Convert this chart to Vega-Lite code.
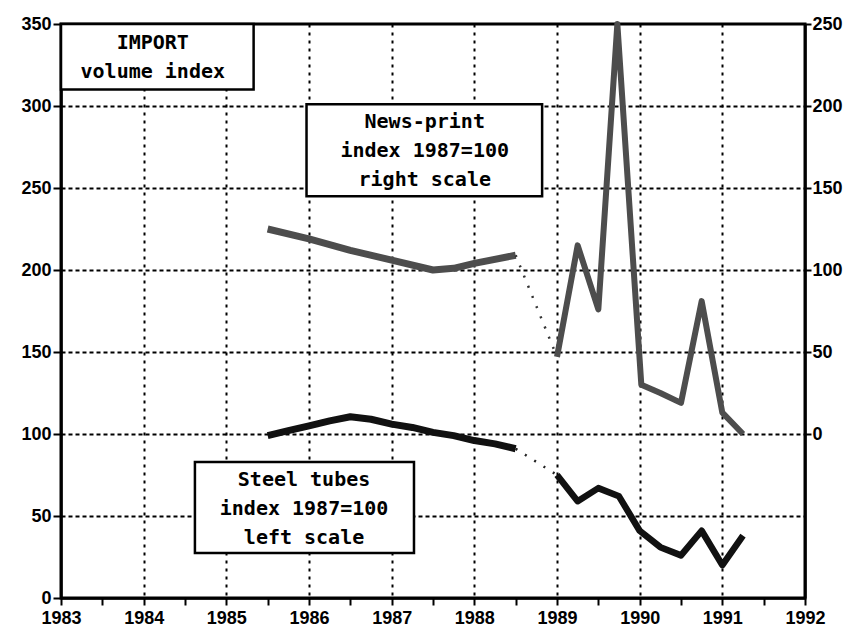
{
  "$schema": "https://vega.github.io/schema/vega-lite/v6.json",
  "width": 744,
  "height": 574,
  "autosize": {"type": "none"},
  "padding": {"left": 61, "top": 24, "right": 47, "bottom": 39},
  "background": "white",
  "config": {
    "view": {"stroke": "black", "strokeWidth": 3},
    "axis": {
      "domainColor": "black",
      "domainWidth": 2.5,
      "tickColor": "black",
      "tickWidth": 2,
      "labelColor": "black",
      "labelFont": "Liberation Sans",
      "labelFontWeight": "bold",
      "labelFontSize": 18,
      "labelOverlap": false,
      "title": null
    }
  },
  "datasets": {
    "steel": [
      {"year": 1985.5, "value": 99, "part": "a"},
      {"year": 1985.75, "value": 102, "part": "a"},
      {"year": 1986, "value": 105, "part": "a"},
      {"year": 1986.25, "value": 108, "part": "a"},
      {"year": 1986.5, "value": 110.5, "part": "a"},
      {"year": 1986.75, "value": 109, "part": "a"},
      {"year": 1987, "value": 106, "part": "a"},
      {"year": 1987.25, "value": 104, "part": "a"},
      {"year": 1987.5, "value": 101, "part": "a"},
      {"year": 1987.75, "value": 99, "part": "a"},
      {"year": 1988, "value": 96, "part": "a"},
      {"year": 1988.25, "value": 94, "part": "a"},
      {"year": 1988.5, "value": 91, "part": "a"},
      {"year": 1988.5, "value": 91, "part": "c"},
      {"year": 1989, "value": 75, "part": "c"},
      {"year": 1989, "value": 75, "part": "b"},
      {"year": 1989.25, "value": 59, "part": "b"},
      {"year": 1989.5, "value": 67, "part": "b"},
      {"year": 1989.75, "value": 62, "part": "b"},
      {"year": 1990, "value": 41, "part": "b"},
      {"year": 1990.25, "value": 31, "part": "b"},
      {"year": 1990.5, "value": 26, "part": "b"},
      {"year": 1990.75, "value": 41, "part": "b"},
      {"year": 1991, "value": 20, "part": "b"},
      {"year": 1991.25, "value": 38, "part": "b"}
    ],
    "news": [
      {"year": 1985.5, "value": 125, "part": "a"},
      {"year": 1986, "value": 119, "part": "a"},
      {"year": 1986.5, "value": 112, "part": "a"},
      {"year": 1987, "value": 106, "part": "a"},
      {"year": 1987.5, "value": 100, "part": "a"},
      {"year": 1987.75, "value": 101, "part": "a"},
      {"year": 1988, "value": 104, "part": "a"},
      {"year": 1988.5, "value": 109, "part": "a"},
      {"year": 1988.5, "value": 109, "part": "c"},
      {"year": 1989, "value": 47, "part": "c"},
      {"year": 1989, "value": 47, "part": "b"},
      {"year": 1989.25, "value": 115, "part": "b"},
      {"year": 1989.5, "value": 76, "part": "b"},
      {"year": 1989.73, "value": 250, "part": "b"},
      {"year": 1990.02, "value": 30, "part": "b"},
      {"year": 1990.25, "value": 25, "part": "b"},
      {"year": 1990.5, "value": 19, "part": "b"},
      {"year": 1990.75, "value": 81, "part": "b"},
      {"year": 1991, "value": 13, "part": "b"},
      {"year": 1991.25, "value": 0, "part": "b"}
    ],
    "boxes": [
      {"x0": 1983, "x1": 1985.33, "y0": 350, "y1": 310, "tx": 1984.11, "ty": 338.5, "lines": ["IMPORT", "volume index"]},
      {"x0": 1985.97, "x1": 1988.82, "y0": 301, "y1": 245, "tx": 1987.4, "ty": 290, "lines": ["News-print", "index 1987=100", "right scale"]},
      {"x0": 1984.62, "x1": 1987.27, "y0": 83, "y1": 27.5, "tx": 1985.94, "ty": 72, "lines": ["Steel tubes", "index 1987=100", "left scale"]}
    ]
  },
  "layer": [
    {
      "layer": [
        {
          "data": {"name": "boxes"},
          "mark": {"type": "rect", "fill": "white", "stroke": "black", "strokeWidth": 2.5},
          "encoding": {
            "x": {
              "field": "x0", "type": "quantitative",
              "scale": {"domain": [1983, 1992], "nice": false, "zero": false},
              "axis": {
                "orient": "bottom",
                "values": [1983, 1983.25, 1983.5, 1983.75, 1984, 1984.25, 1984.5, 1984.75, 1985, 1985.25, 1985.5, 1985.75, 1986, 1986.25, 1986.5, 1986.75, 1987, 1987.25, 1987.5, 1987.75, 1988, 1988.25, 1988.5, 1988.75, 1989, 1989.25, 1989.5, 1989.75, 1990, 1990.25, 1990.5, 1990.75, 1991, 1991.25, 1991.5, 1991.75, 1992],
                "labelExpr": "datum.value % 1 === 0 ? format(datum.value, 'd') : ''",
                "labelFlush": false,
                "tickSize": 7,
                "labelPadding": 4,
                "grid": true,
                "gridColor": "black",
                "gridWidth": 2,
                "gridDash": [3, 5],
                "gridOpacity": {"condition": {"test": "datum.value % 1 === 0 && datum.value > 1983 && datum.value < 1992", "value": 1}, "value": 0}
              }
            },
            "x2": {"field": "x1"},
            "y": {
              "field": "y0", "type": "quantitative",
              "scale": {"domain": [0, 350], "nice": false},
              "axis": {
                "orient": "left",
                "values": [0, 50, 100, 150, 200, 250, 300, 350],
                "tickSize": 8,
                "labelPadding": 2,
                "grid": true,
                "gridColor": "black",
                "gridWidth": 2,
                "gridDash": [4, 3],
                "gridOpacity": {"condition": {"test": "datum.value > 0 && datum.value < 350", "value": 1}, "value": 0}
              }
            },
            "y2": {"field": "y1"}
          }
        },
        {
          "data": {"name": "boxes"},
          "mark": {"type": "text", "font": "DejaVu Sans Mono", "fontSize": 20, "fontWeight": "bold", "lineHeight": 29, "align": "center", "baseline": "middle", "color": "black"},
          "encoding": {
            "x": {"field": "tx", "type": "quantitative"},
            "y": {"field": "ty", "type": "quantitative"},
            "text": {"field": "lines"}
          }
        },
        {
          "data": {"name": "steel"},
          "transform": [{"filter": "datum.part === 'a'"}],
          "mark": {"type": "line", "color": "#111111", "strokeWidth": 7, "strokeJoin": "round"},
          "encoding": {
            "x": {"field": "year", "type": "quantitative"},
            "y": {"field": "value", "type": "quantitative"}
          }
        },
        {
          "data": {"name": "steel"},
          "transform": [{"filter": "datum.part === 'b'"}],
          "mark": {"type": "line", "color": "#111111", "strokeWidth": 6.5, "strokeJoin": "round"},
          "encoding": {
            "x": {"field": "year", "type": "quantitative"},
            "y": {"field": "value", "type": "quantitative"}
          }
        },
        {
          "data": {"name": "steel"},
          "transform": [{"filter": "datum.part === 'c'"}],
          "mark": {"type": "line", "color": "#222222", "strokeWidth": 2.5, "strokeDash": [2, 9]},
          "encoding": {
            "x": {"field": "year", "type": "quantitative"},
            "y": {"field": "value", "type": "quantitative"}
          }
        }
      ]
    },
    {
      "layer": [
        {
          "data": {"name": "news"},
          "transform": [{"filter": "datum.part === 'a'"}],
          "mark": {"type": "line", "color": "#4d4d4d", "strokeWidth": 7, "strokeJoin": "round"},
          "encoding": {
            "x": {"field": "year", "type": "quantitative"},
            "y": {
              "field": "value", "type": "quantitative",
              "scale": {"domain": [-100, 250], "nice": false, "zero": false},
              "axis": {
                "orient": "right",
                "values": [0, 50, 100, 150, 200, 250],
                "tickSize": 6,
                "labelPadding": 1,
                "grid": false
              }
            }
          }
        },
        {
          "data": {"name": "news"},
          "transform": [{"filter": "datum.part === 'b'"}],
          "mark": {"type": "line", "color": "#4d4d4d", "strokeWidth": 6, "strokeJoin": "round"},
          "encoding": {
            "x": {"field": "year", "type": "quantitative"},
            "y": {"field": "value", "type": "quantitative"}
          }
        },
        {
          "data": {"name": "news"},
          "transform": [{"filter": "datum.part === 'c'"}],
          "mark": {"type": "line", "color": "#333333", "strokeWidth": 2.5, "strokeDash": [2, 9]},
          "encoding": {
            "x": {"field": "year", "type": "quantitative"},
            "y": {"field": "value", "type": "quantitative"}
          }
        }
      ]
    }
  ],
  "resolve": {"scale": {"y": "independent"}}
}
